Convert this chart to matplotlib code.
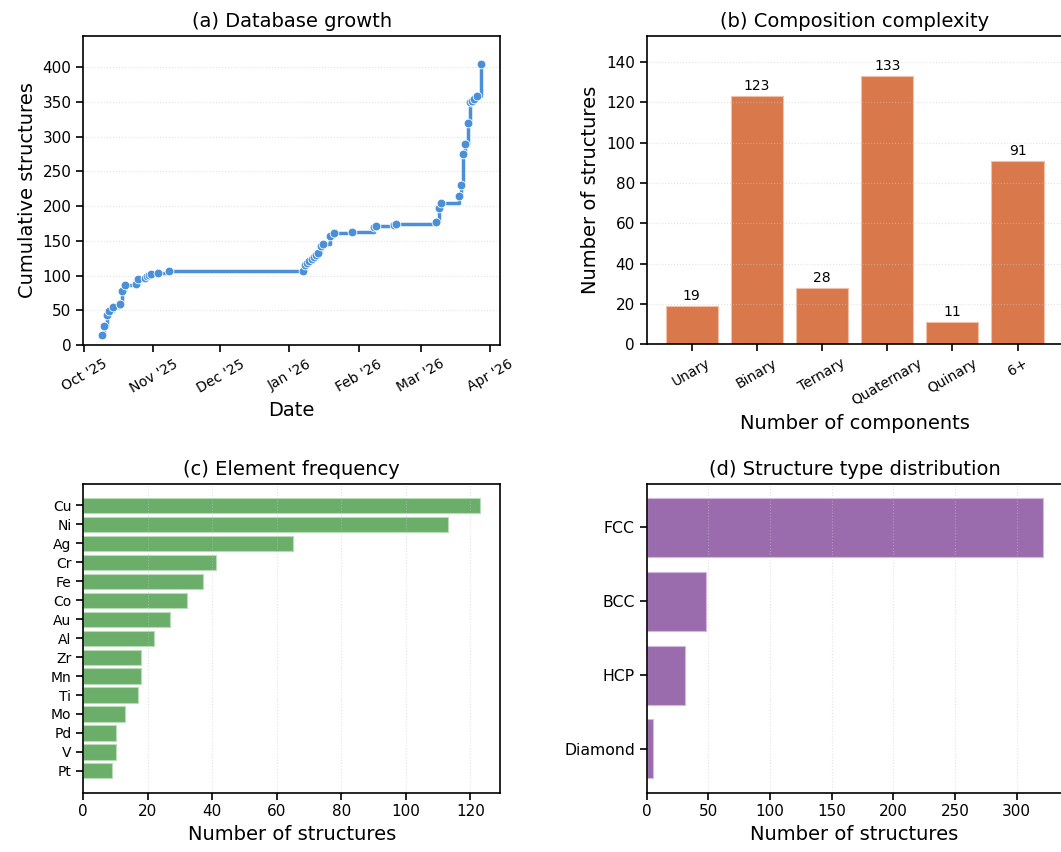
import matplotlib
matplotlib.use("Agg")
import matplotlib.pyplot as plt
import matplotlib.dates as mdates
from matplotlib.ticker import MultipleLocator
import pandas as pd

# ---------------- data ----------------
growth_dates = ["2025-10-09", "2025-10-10", "2025-10-11", "2025-10-12", "2025-10-14",
                "2025-10-17", "2025-10-18", "2025-10-19", "2025-10-24", "2025-10-25",
                "2025-10-28", "2025-10-29", "2025-10-30", "2025-10-31", "2025-11-03",
                "2025-11-08", "2026-01-07", "2026-01-08", "2026-01-09", "2026-01-10",
                "2026-01-11", "2026-01-12", "2026-01-13", "2026-01-14", "2026-01-15",
                "2026-01-16", "2026-01-19", "2026-01-21", "2026-01-29", "2026-02-08",
                "2026-02-09", "2026-02-17", "2026-02-18", "2026-03-08", "2026-03-09",
                "2026-03-10", "2026-03-18", "2026-03-19", "2026-03-20", "2026-03-21",
                "2026-03-22", "2026-03-23", "2026-03-24", "2026-03-25", "2026-03-26",
                "2026-03-28"]
growth_cumulative = [14, 27, 43, 49, 55, 59, 78, 87, 88, 95, 96, 99, 101, 102, 104,
                     106, 107, 115, 118, 121, 124, 127, 129, 132, 143, 146, 157, 161,
                     163, 170, 171, 173, 174, 177, 198, 205, 215, 230, 275, 290, 320,
                     350, 351, 354, 358, 405]

component_labels = ["Unary", "Binary", "Ternary", "Quaternary", "Quinary", "6+"]
component_counts = [19, 123, 28, 133, 11, 91]

elements = ["Cu", "Ni", "Ag", "Cr", "Fe", "Co", "Au", "Al", "Zr", "Mn", "Ti", "Mo", "Pd", "V", "Pt"]
element_counts = [123, 113, 65, 41, 37, 32, 27, 22, 18, 18, 17, 13, 10, 10, 9]

structure_types = ["FCC", "BCC", "HCP", "Diamond"]
structure_counts = [321, 48, 31, 5]

# ---------------- style ----------------
plt.rcParams["font.family"] = ["DejaVu Sans"]
BLUE = "#4a90d9"
ORANGE = "#d9794b"
GREEN = "#6aae6a"
PURPLE = "#9a6cae"

W, H = 1061, 852
fig = plt.figure(figsize=(W / 100, H / 100), dpi=100)


def rect(l, t, r, b):
    return [l / W, 1 - b / H, (r - l) / W, (b - t) / H]


def style(ax):
    for s in ax.spines.values():
        s.set_linewidth(1.2)
        s.set_color("black")
    ax.tick_params(axis="both", direction="out", length=5, width=1.2, labelsize=11, colors="black")


def grid(ax, axis):
    ax.grid(True, axis=axis, linestyle=":", color="#c8c8c8", linewidth=0.8, alpha=0.5)


ax_a = fig.add_axes(rect(83.3, 35.7, 500, 345))
ax_b = fig.add_axes(rect(646.7, 35.7, 1062.5, 344.5))
ax_c = fig.add_axes(rect(83.3, 483.8, 500, 792.5))
ax_d = fig.add_axes(rect(646.7, 483.8, 1062.5, 792.5))

# (a) growth
d = pd.to_datetime(growth_dates)
ax_a.plot(d, growth_cumulative, drawstyle="steps-post", color=BLUE, lw=2.5, zorder=2)
ax_a.plot(d, growth_cumulative, linestyle="none", marker="o", ms=6.3, mfc=BLUE,
          mec="white", mew=0.6, zorder=3)
ax_a.set_ylim(0, max(growth_cumulative) * 1.1)
ax_a.yaxis.set_major_locator(MultipleLocator(50))
ax_a.xaxis.set_major_locator(mdates.MonthLocator())
ax_a.xaxis.set_major_formatter(mdates.DateFormatter("%b '%y"))
style(ax_a)
grid(ax_a, "y")
for lab in ax_a.get_xticklabels():
    lab.set_rotation(30)
    lab.set_ha("center")
    lab.set_fontsize(10)
ax_a.set_title("(a) Database growth", fontsize=14)
ax_a.set_xlabel("Date", fontsize=14)
ax_a.set_ylabel("Cumulative structures", fontsize=14)

# (b) composition
xpos = list(range(len(component_labels)))
ax_b.bar(xpos, component_counts, width=0.8, color=ORANGE, edgecolor="#f0c0a8", linewidth=0.8)
for x, v in zip(xpos, component_counts):
    ax_b.text(x, v + 1.5, str(v), ha="center", va="bottom", fontsize=10)
ax_b.set_ylim(0, max(component_counts) * 1.15)
ax_b.yaxis.set_major_locator(MultipleLocator(20))
ax_b.set_xticks(xpos)
ax_b.set_xticklabels(component_labels, rotation=30, ha="center")
style(ax_b)
ax_b.tick_params(axis="x", labelsize=10)
grid(ax_b, "y")
ax_b.set_title("(b) Composition complexity", fontsize=14)
ax_b.set_xlabel("Number of components", fontsize=14)
ax_b.set_ylabel("Number of structures", fontsize=14)

# (c) elements
ypos = list(range(len(elements)))
ax_c.barh(ypos, element_counts, height=0.8, color=GREEN, edgecolor="#b8dcb8", linewidth=0.8)
ax_c.set_yticks(ypos)
ax_c.set_yticklabels(elements)
ax_c.invert_yaxis()
ax_c.xaxis.set_major_locator(MultipleLocator(20))
style(ax_c)
ax_c.tick_params(axis="y", labelsize=10)
grid(ax_c, "x")
ax_c.set_title("(c) Element frequency", fontsize=14)
ax_c.set_xlabel("Number of structures", fontsize=14)

# (d) structure types
spos = list(range(len(structure_types)))
ax_d.barh(spos, structure_counts, height=0.8, color=PURPLE, edgecolor="#d4b8e0", linewidth=0.8)
ax_d.set_yticks(spos)
ax_d.set_yticklabels(structure_types)
ax_d.invert_yaxis()
ax_d.xaxis.set_major_locator(MultipleLocator(50))
style(ax_d)
ax_d.tick_params(axis="y", labelsize=11.3)
grid(ax_d, "x")
ax_d.set_title("(d) Structure type distribution", fontsize=14)
ax_d.set_xlabel("Number of structures", fontsize=14)

fig.savefig("out.png", dpi=100)
